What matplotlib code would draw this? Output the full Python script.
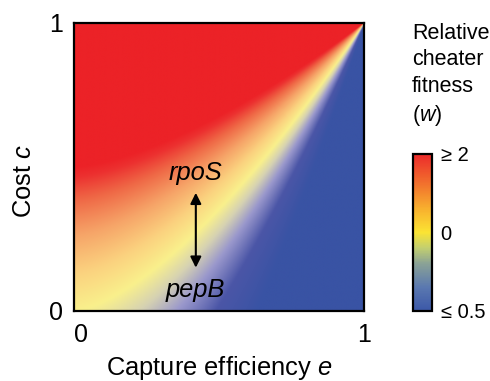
import numpy as np
import matplotlib
matplotlib.use("Agg")
import matplotlib.pyplot as plt
from matplotlib.colors import LinearSegmentedColormap, Normalize
from matplotlib.cm import ScalarMappable

plt.rcParams['font.family'] = ['Liberation Sans', 'DejaVu Sans']
plt.rcParams['mathtext.fontset'] = 'custom'
plt.rcParams['mathtext.rm'] = 'Liberation Sans'
plt.rcParams['mathtext.it'] = 'Liberation Sans:italic'

# model: w = (1 - e**k) / (1 - c)
capture_exponent = 1.5
w_min, w_max = 0.5, 2.0
tick_labels = ['\u2264 0.5', '0', '\u2265 2']
genes = ['rpoS', 'pepB']
gene_e = [0.42, 0.42]
gene_c = [0.48, 0.073]
arrow_c = [0.41, 0.15]

n = 600
e = (np.arange(n) + 0.5) / n
c = (np.arange(n) + 0.5) / n
E, C = np.meshgrid(e, c)
W = (1 - E ** capture_exponent) / (1 - C)
logw = np.clip(np.log2(W), np.log2(w_min), np.log2(w_max))

heat_cmap = LinearSegmentedColormap.from_list('heat', [
    (0.00, '#3953a4'), (0.20, '#4b56a7'), (0.33, '#9a98cc'), (0.42, '#d6d2b2'),
    (0.50, '#f9f08c'), (0.60, '#fbd27f'), (0.72, '#f6a468'), (0.85, '#ef6846'),
    (0.95, '#ec3130'), (1.00, '#ec2227')])
bar_cmap = LinearSegmentedColormap.from_list('bar', [
    (0.00, '#3c58a8'), (0.15, '#5a78b0'), (0.30, '#8aa296'), (0.40, '#c2cf70'),
    (0.50, '#fbe433'), (0.65, '#f8b02e'), (0.80, '#f2752d'), (1.00, '#ec2a2b')])

fig = plt.figure(figsize=(4.9, 3.81), dpi=100)
ax = fig.add_axes([0.151, 0.184, 0.592, 0.756])
ax.imshow(logw, extent=[0, 1, 0, 1], origin='lower', cmap=heat_cmap,
          vmin=np.log2(w_min), vmax=np.log2(w_max), interpolation='bilinear', aspect='auto')
ax.set_xlim(0, 1)
ax.set_ylim(0, 1)
ax.set_xticks([0, 1])
ax.set_xticklabels(['0', '1'])
ax.set_yticks([0, 1])
ax.set_yticklabels(['0', '1'])
ax.get_xticklabels()[0].set_ha('left')
ax.tick_params(axis='both', length=0, labelsize=18)
ax.tick_params(axis='x', pad=9)
ax.tick_params(axis='y', pad=8)
for s in ax.spines.values():
    s.set_linewidth(1.6)
ax.set_xlabel('Capture efficiency $\\mathit{e}$', fontsize=18.4, labelpad=5)
ax.set_ylabel('Cost $\\mathit{c}$', fontsize=18.4)
ax.yaxis.set_label_coords(-0.13, 0.45)

for g, ge, gc in zip(genes, gene_e, gene_c):
    ax.text(ge, gc, g, fontsize=18.4, style='italic', ha='center', va='center')
ax.annotate('', xy=(gene_e[0], arrow_c[0]), xytext=(gene_e[0], arrow_c[1]),
            arrowprops=dict(arrowstyle='<|-|>', color='black', lw=1.5,
                            mutation_scale=16, shrinkA=0, shrinkB=0))

cax = fig.add_axes([0.843, 0.184, 0.039, 0.412])
sm = ScalarMappable(norm=Normalize(-1, 1), cmap=bar_cmap)
cb = fig.colorbar(sm, cax=cax, ticks=[-1, 0, 1])
cb.ax.set_yticklabels(tick_labels)
cb.ax.tick_params(length=0, labelsize=14.5, pad=6)
cb.outline.set_linewidth(1.6)
fig.text(0.841, 0.94, 'Relative\ncheater\nfitness\n($\\mathit{w}$)', fontsize=15.5,
         ha='left', va='top', linespacing=1.35)

fig.savefig('out.png', dpi=100)
